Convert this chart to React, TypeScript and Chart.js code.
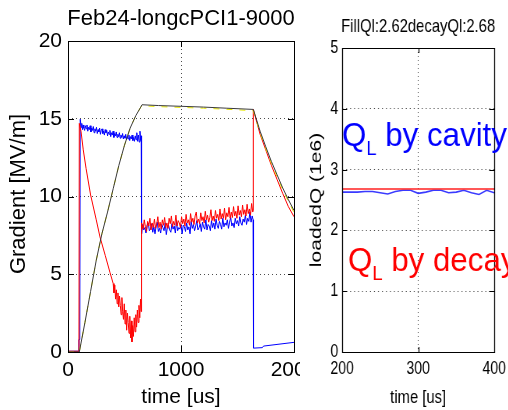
import React, { useEffect, useRef } from "react";
import { Chart, registerables } from "chart.js";

Chart.register(...registerables);

const FONT = '"Liberation Sans", Arial, Helvetica, sans-serif';
const S = 0.78; // horizontal compression of the right panel

// ---------------- left panel ----------------
const leftTitle = "Feb24-longcPCI1-9000";
const leftYLabel = "Gradient [MV/m]";
const leftXLabel = "time [us]";
const leftXMin = 0;
const leftXMax = 2000;
const leftXStep = 1000;
const leftYMin = 0;
const leftYMax = 20;
const leftYStep = 5;

const blackT = [0, 100, 150, 200, 250, 300, 350, 400, 450, 500, 550, 600, 640, 655, 800, 1000, 1200, 1400, 1640, 1700, 1750, 1800, 1850, 1900, 1950, 2000];
const blackV = [0, 0, 1.9, 3.9, 5.9, 7.6, 9.0, 10.5, 12.0, 13.3, 14.4, 15.2, 15.7, 15.9, 15.85, 15.8, 15.75, 15.68, 15.6, 14.2, 13.2, 12.25, 11.4, 10.55, 9.8, 9.1];
const yellowV = [0, 0, 1.9, 3.9, 5.9, 7.6, 9.0, 10.5, 12.0, 13.3, 14.4, 15.2, 15.7, 15.84, 15.78, 15.73, 15.68, 15.61, 15.52, 14.08, 13.08, 12.13, 11.28, 10.43, 9.68, 8.98];

const blueT = [0, 95, 97, 104, 108,
  110, 116, 122, 128, 134, 140, 147, 154, 161, 168, 175, 182, 189, 196, 203, 210, 217, 224, 231, 238, 245, 252, 259, 266, 273, 280, 287, 294, 301, 308, 315, 322, 329, 336, 343, 350, 357, 364, 371, 378, 385, 392, 399, 406, 413, 420, 427, 434, 441, 448, 455, 462, 469, 476, 483, 490, 497, 504, 511, 518, 525, 532, 539, 546, 553, 560, 567, 574, 581, 588, 595, 602, 609, 616, 623, 630, 637, 643, 648, 650,
  652, 660, 670, 680, 690, 700, 710, 720, 730, 740, 750, 760, 770, 780, 790, 800, 810, 820, 830, 840, 850, 860, 870, 880, 890, 900, 910, 920, 930, 940, 950, 960, 970, 980, 990, 1000, 1010, 1020, 1030, 1040, 1050, 1060, 1070, 1080, 1090, 1100, 1110, 1120, 1130, 1140, 1150, 1160, 1170, 1180, 1190, 1200, 1210, 1220, 1230, 1240, 1250, 1260, 1270, 1280, 1290, 1300, 1310, 1320, 1330, 1340, 1350, 1360, 1370, 1380, 1390, 1400, 1410, 1420, 1430, 1440, 1450, 1460, 1470, 1480, 1490, 1500, 1510, 1520, 1530, 1540, 1550, 1560, 1570, 1580, 1590, 1600, 1610, 1620, 1630, 1638,
  1642, 1720, 1730, 2000];
const blueV = [0.05, 0.05, 0.8, 0.8, 14.95,
  14.9, 14.45, 14.7, 14.3, 14.6, 14.4, 14.25, 14.55, 14.35, 14.6, 14.2, 14.45, 14.3, 14.55, 14.15, 14.4, 14.25, 14.5, 14.1, 14.35, 14.2, 14.45, 14.05, 14.3, 14.15, 14.4, 14.0, 14.25, 14.35, 14.05, 14.2, 13.95, 14.3, 14.1, 14.25, 13.9, 14.15, 14.0, 14.25, 13.85, 14.1, 13.95, 14.2, 13.8, 14.05, 13.9, 14.15, 13.8, 14.0, 13.85, 14.1, 13.75, 13.95, 13.8, 14.05, 13.7, 13.9, 13.75, 14.0, 13.65, 13.85, 13.7, 13.95, 13.6, 13.85, 13.7, 13.95, 13.6, 13.8, 13.55, 13.9, 13.65, 14.1, 13.55, 13.95, 13.5, 14.2, 13.6, 13.9, 13.6,
  7.6, 8.2, 7.85, 8.0, 7.65, 8.15, 8.3, 7.8, 7.9, 8.25, 7.7, 8.05, 7.6, 8.1, 8.35, 7.75, 7.95, 7.65, 8.2, 8.0, 7.8, 8.3, 7.55, 8.05, 8.15, 7.85, 7.7, 8.25, 7.9, 8.1, 7.65, 8.4, 7.8, 8.0, 7.9, 8.2, 7.6, 8.15, 8.05, 7.75, 8.3, 7.85, 8.05, 7.6, 8.4, 7.95, 8.2, 7.8, 8.1, 8.45, 7.85, 8.0, 8.25, 7.75, 8.35, 8.05, 7.9, 8.5, 7.85, 8.2, 8.1, 7.8, 8.45, 8.0, 8.3, 7.9, 8.55, 8.15, 7.95, 8.4, 8.2, 7.9, 8.6, 8.05, 8.3, 8.15, 8.5, 7.95, 8.35, 8.65, 8.1, 8.3, 8.0, 8.6, 8.25, 8.45, 8.1, 8.7, 8.3, 8.15, 8.55, 8.35, 8.8, 8.2, 8.6, 8.4, 9.0, 8.35, 8.75, 8.5,
  0.25, 0.28, 0.38, 0.62];

const redT = [0, 97, 100, 115, 135, 160, 200, 250, 283, 330, 372,
  400, 407, 414, 421, 428, 435, 442, 449, 456, 463, 470, 477, 484, 491, 498, 505, 512, 519, 526, 533, 540, 547, 554, 561, 566, 572, 579, 586, 593, 600, 607, 614, 621, 628, 635, 642, 647, 650,
  652, 655, 665, 675, 685, 695, 705, 715, 725, 735, 745, 755, 765, 775, 785, 795, 805, 815, 825, 835, 845, 855, 865, 875, 885, 895, 905, 915, 925, 935, 945, 955, 965, 975, 985, 995, 1005, 1015, 1025, 1035, 1045, 1055, 1065, 1075, 1085, 1095, 1105, 1115, 1125, 1135, 1145, 1155, 1165, 1175, 1185, 1195, 1205, 1215, 1225, 1235, 1245, 1255, 1265, 1275, 1285, 1295, 1305, 1315, 1325, 1335, 1345, 1355, 1365, 1375, 1385, 1395, 1405, 1415, 1425, 1435, 1445, 1455, 1465, 1475, 1485, 1495, 1505, 1515, 1525, 1535, 1545, 1555, 1565, 1575, 1585, 1595, 1605, 1615, 1625, 1635, 1638,
  1640, 1700, 1750, 1800, 1850, 1900, 1950, 2000];
const redV = [0.05, 0.05, 14.7, 14.2, 13.0, 11.8, 10.1, 8.5, 7.4, 6.2, 5.1,
  4.4, 3.8, 4.3, 3.4, 4.0, 3.1, 3.8, 2.9, 3.6, 3.0, 2.4, 3.5, 2.6, 2.1, 3.1, 1.8, 2.7, 1.4, 2.5, 1.9, 1.2, 2.3, 0.9, 2.0, 0.65, 1.7, 1.0, 2.2, 1.3, 2.4, 1.6, 2.7, 1.9, 3.0, 2.2, 3.4, 2.6, 3.0,
  8.3, 8.2, 7.9, 8.5, 8.05, 7.75, 8.4, 8.1, 8.6, 7.85, 8.3, 8.0, 8.55, 7.95, 8.2, 8.7, 8.0, 8.35, 7.9, 8.5, 8.15, 8.65, 8.0, 8.3, 7.95, 8.6, 8.25, 8.75, 8.05, 8.4, 8.15, 8.8, 8.1, 8.45, 8.3, 8.0, 8.7, 8.25, 8.55, 8.1, 8.85, 8.3, 8.5, 8.15, 8.9, 8.35, 8.6, 8.2, 8.75, 9.0, 8.3, 8.55, 8.25, 8.95, 8.45, 8.7, 8.3, 9.05, 8.5, 8.8, 8.35, 8.65, 9.15, 8.45, 8.75, 8.4, 9.1, 8.6, 8.85, 8.45, 9.2, 8.55, 8.9, 8.6, 9.25, 8.5, 8.95, 8.7, 9.3, 8.6, 9.0, 8.65, 9.35, 8.75, 9.05, 8.6, 9.4, 8.8, 9.1, 8.7, 9.45, 8.85, 9.15, 8.75, 9.5, 8.9, 9.2, 8.8, 9.55, 9.0, 9.1,
  15.6, 14.0, 13.0, 12.0, 11.1, 10.2, 9.35, 8.7];

// ---------------- right panel ----------------
const rightTitle = "FillQl:2.62decayQl:2.68";
const rightYLabel = "loadedQ (1e6)";
const rightXLabel = "time [us]";
const rightXMin = 200;
const rightXMax = 400;
const rightXStep = 100;
const rightYMin = 0;
const rightYMax = 5;
const rightYStep = 1;

const qT = [200, 210, 220, 230, 240, 250, 260, 270, 280, 290, 300, 310, 320, 330, 340, 350, 360, 370, 380, 390, 400];
const qCavity = [2.63, 2.63, 2.63, 2.64, 2.64, 2.62, 2.6, 2.64, 2.66, 2.66, 2.61, 2.63, 2.66, 2.66, 2.62, 2.63, 2.66, 2.62, 2.59, 2.66, 2.62];
const qDecay = [2.68, 2.68, 2.68, 2.68, 2.68, 2.68, 2.68, 2.68, 2.68, 2.68, 2.68, 2.68, 2.68, 2.68, 2.68, 2.68, 2.68, 2.68, 2.68, 2.68, 2.68];

const cavityText = ["Q", "L", " by cavity"];
const decayText = ["Q", "L", " by decay"];

function pts(t: number[], v: number[]) {
  return t.map((x, i) => ({ x, y: v[i] }));
}

function drawFrame(ctx: CanvasRenderingContext2D, chart: any, tl: number, vw: number, hw: number, htl: number) {
  const a = chart.chartArea;
  const { x: xs, y: ys } = chart.scales;
  ctx.save();
  ctx.setLineDash([]);
  ctx.strokeStyle = "#000";
  const L = Math.round(a.left), R = Math.round(a.right), T = Math.round(a.top), B = Math.round(a.bottom);
  ctx.lineWidth = hw;
  ctx.beginPath();
  ctx.moveTo(L, T + 0.5); ctx.lineTo(R, T + 0.5);
  ctx.moveTo(L, B + 0.5); ctx.lineTo(R, B + 0.5);
  ys.ticks.forEach((t: any) => {
    const y = Math.round(ys.getPixelForValue(t.value)) + 0.5;
    ctx.moveTo(L, y); ctx.lineTo(L + htl, y);
    ctx.moveTo(R, y); ctx.lineTo(R - htl, y);
  });
  ctx.stroke();
  ctx.lineWidth = vw;
  ctx.beginPath();
  ctx.moveTo(L + 0.5, T); ctx.lineTo(L + 0.5, B + 1);
  ctx.moveTo(R + 0.5, T); ctx.lineTo(R + 0.5, B + 1);
  xs.ticks.forEach((t: any) => {
    const x = Math.round(xs.getPixelForValue(t.value)) + 0.5;
    ctx.moveTo(x, B); ctx.lineTo(x, B - tl);
    ctx.moveTo(x, T); ctx.lineTo(x, T + tl);
  });
  ctx.stroke();
  ctx.restore();
}

const leftDeco = {
  id: "leftDeco",
  afterDraw(chart: any) {
    const ctx = chart.ctx as CanvasRenderingContext2D;
    const a = chart.chartArea;
    drawFrame(ctx, chart, 6, 1, 1, 6);
    ctx.save();
    ctx.fillStyle = "#000";
    ctx.textAlign = "center";
    ctx.textBaseline = "alphabetic";
    ctx.font = `22px ${FONT}`;
    ctx.fillText(leftTitle, (a.left + a.right) / 2, 25);
    ctx.font = `21px ${FONT}`;
    ctx.fillText(leftXLabel, (a.left + a.right) / 2, 403);
    ctx.translate(25, 194);
    ctx.rotate(-Math.PI / 2);
    ctx.font = `22px ${FONT}`;
    ctx.fillText(leftYLabel, 0, 0);
    ctx.restore();
  },
};

function drawQL(ctx: CanvasRenderingContext2D, parts: string[], X: number, base: number, subBase: number, color: string) {
  ctx.save();
  ctx.translate((X - 300) / S, 0);
  ctx.scale(0.92 / S, 1);
  ctx.fillStyle = color;
  ctx.textAlign = "left";
  ctx.textBaseline = "alphabetic";
  ctx.font = `34px ${FONT}`;
  ctx.fillText(parts[0], 0, base);
  let w = ctx.measureText(parts[0]).width;
  ctx.font = `20px ${FONT}`;
  ctx.fillText(parts[1], w, subBase);
  w += ctx.measureText(parts[1]).width;
  ctx.font = `34px ${FONT}`;
  ctx.fillText(parts[2], w, base);
  ctx.restore();
}

const rightDeco = {
  id: "rightDeco",
  afterDraw(chart: any) {
    const ctx = chart.ctx as CanvasRenderingContext2D;
    const a = chart.chartArea;
    drawFrame(ctx, chart, 5, 1 / S, 1, 5 / S);
    ctx.save();
    ctx.fillStyle = "#000";
    ctx.textAlign = "center";
    ctx.textBaseline = "alphabetic";
    ctx.font = `19px ${FONT}`;
    ctx.fillText(rightTitle, (a.left + a.right) / 2, 32);
    ctx.fillText(rightXLabel, (a.left + a.right) / 2, 403);
    ctx.save();
    ctx.translate(27, 200);
    ctx.rotate(-Math.PI / 2);
    ctx.font = `21px ${FONT}`;
    ctx.fillText(rightYLabel, 0, 0);
    ctx.restore();
    ctx.restore();
    drawQL(ctx, cavityText, 342, 146, 155, "#0000ff");
    drawQL(ctx, decayText, 348, 271, 280, "#ff0000");
  },
};

function axisCommon(min: number, max: number, step: number, fontSize: number, pad: number, dash: number[], horiz: boolean, size: number) {
  return {
    type: "linear" as const,
    min,
    max,
    ticks: {
      stepSize: step,
      autoSkip: false,
      maxRotation: 0,
      minRotation: 0,
      padding: pad,
      color: "#000",
      font: { family: FONT, size: fontSize },
      callback: (v: any) => String(v),
    },
    grid: { color: "rgba(0,0,0,0.7)", lineWidth: 1, drawTicks: false },
    border: { display: false, dash },
    afterFit: (scale: any) => {
      if (horiz) scale.height = size;
      else scale.width = size;
      scale.paddingLeft = 0;
      scale.paddingRight = 0;
      scale.paddingTop = 0;
      scale.paddingBottom = 0;
    },
  };
}

export default function App() {
  const leftRef = useRef<HTMLCanvasElement | null>(null);
  const rightRef = useRef<HTMLCanvasElement | null>(null);

  useEffect(() => {
    const line = (label: string, data: any[], color: string, extra: any = {}) => ({
      label,
      data,
      borderColor: color,
      backgroundColor: color,
      borderWidth: 1,
      pointRadius: 0,
      tension: 0,
      fill: false,
      ...extra,
    });

    const left = new Chart(leftRef.current as HTMLCanvasElement, {
      type: "line",
      data: {
        datasets: [
          line("probe", pts(blackT, blackV), "#3a3a3a"),
          line("calc", pts(blackT, yellowV), "#e8e800", { borderDash: [6, 7] }),
          line("decay", pts(redT, redV), "#ff0000"),
          line("cavity", pts(blueT, blueV), "#0000ff"),
        ],
      },
      options: {
        responsive: false,
        animation: false,
        parsing: false,
        normalized: true,
        layout: { padding: { left: 0, right: 6, top: 41, bottom: 0 } },
        plugins: { legend: { display: false }, tooltip: { enabled: false }, title: { display: false } },
        scales: {
          x: axisCommon(leftXMin, leftXMax, leftXStep, 21, 6, [1, 3], true, 58),
          y: axisCommon(leftYMin, leftYMax, leftYStep, 21, 6, [1, 3], false, 68),
        },
      } as any,
      plugins: [leftDeco],
    });

    const right = new Chart(rightRef.current as HTMLCanvasElement, {
      type: "line",
      data: {
        datasets: [
          line("decayQ", pts(qT, qDecay), "#ff2020", { borderWidth: 1.6 }),
          line("cavityQ", pts(qT, qCavity), "#3a3aff", { borderWidth: 1.6 }),
        ],
      },
      options: {
        responsive: false,
        animation: false,
        parsing: false,
        layout: { padding: { left: 0, right: 18, top: 48, bottom: 0 } },
        plugins: { legend: { display: false }, tooltip: { enabled: false }, title: { display: false } },
        scales: {
          x: axisCommon(rightXMin, rightXMax, rightXStep, 18, 6, [1, 3], true, 58),
          y: axisCommon(rightYMin, rightYMax, rightYStep, 18, 5, [1.3, 3.8], false, 54),
        },
      } as any,
      plugins: [rightDeco],
    });

    return () => {
      left.destroy();
      right.destroy();
    };
  }, []);

  return (
    <div style={{ position: "fixed", left: 0, top: 0, width: 508, height: 410, overflow: "hidden", background: "#fff" }}>
      <canvas ref={leftRef} width={300} height={410} style={{ position: "absolute", left: 0, top: 0, width: 300, height: 410 }} />
      <canvas
        ref={rightRef}
        width={267}
        height={410}
        style={{ position: "absolute", left: 300, top: 0, width: 267, height: 410, transform: `scaleX(${S})`, transformOrigin: "0 0" }}
      />
    </div>
  );
}
